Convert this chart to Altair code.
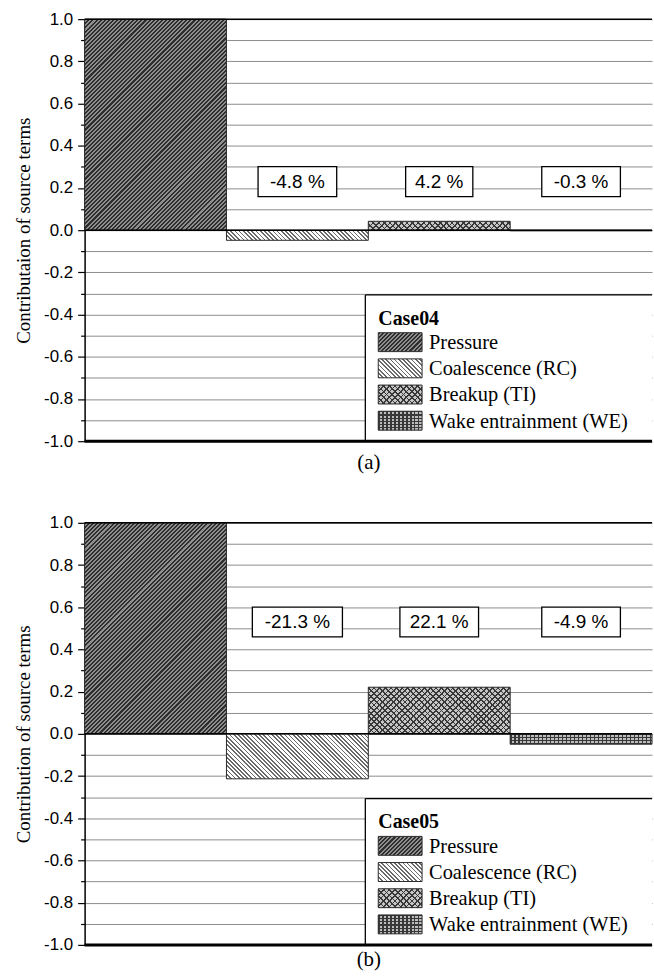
import math

import altair as alt
import pandas as pd

# ---- data -------------------------------------------------------------
terms = ["Pressure", "Coalescence (RC)", "Breakup (TI)", "Wake entrainment (WE)"]
case04_values = [1.0, -0.048, 0.042, -0.003]
case05_values = [1.0, -0.213, 0.221, -0.049]
case_names = ["Case04", "Case05"]
y_titles = ["Contributaion of source terms", "Contribution of source terms"]
captions = ["(a)", "(b)"]
y_ticks = [-1.0, -0.9, -0.8, -0.7, -0.6, -0.5, -0.4, -0.3, -0.2, -0.1, 0.0,
           0.1, 0.2, 0.3, 0.4, 0.5, 0.6, 0.7, 0.8, 0.9, 1.0]
frame_levels = [1.0, 0.0]

# ---- layout / style ---------------------------------------------------
PLOT_W, PLOT_H = 570, 424
BAND_W = PLOT_W / len(terms)
PX_PER_UNIT = PLOT_H / 2.0
LABEL_LEVELS = [0.23, 0.53]          # vertical position of the percentage boxes
CAPTION_PAD = [10, 4]
BOX_HALF = 15 / PX_PER_UNIT          # half box height in data units
SERIF = "Liberation Serif"
SANS = "Liberation Sans"
CLEAR = "rgba(0,0,0,0)"

# hatch definitions: (direction, period px, line fraction, line colour, background)
PATTERNS = {
    "Pressure": [("/", 2.9, 0.5, "#2e2e2e", "#8e8e8e")],
    "Coalescence (RC)": [("\\", 3.0, 0.4, "#6a6a6a", "#ffffff")],
    "Breakup (TI)": [("/", 4.0, 0.3, "#383838", "#c6c6c6"),
                     ("\\", 4.0, 0.3, "#383838", CLEAR)],
    "Wake entrainment (WE)": [("-", 3.2, 0.35, "#383838", "#bdbdbd"),
                              ("|", 4.0, 0.35, "#383838", CLEAR)],
}


def hatch(kind, w, h, period, frac, line, bg):
    """Linear gradient with hard stops that draws stripes of a given pixel period."""
    if kind in ("/", "\\"):
        r = h / w
        a = (1 + r) / (1 + r * r)
        if kind == "/":
            coords = dict(x1=0, y1=0, x2=a, y2=a * r)
        else:
            coords = dict(x1=0, y1=1, x2=a, y2=1 - a * r)
        span = (w + h) / math.sqrt(2)
    elif kind == "|":
        coords = dict(x1=0, y1=0, x2=1, y2=0)
        span = w
    else:
        coords = dict(x1=0, y1=0, x2=0, y2=1)
        span = h
    n = span / period
    stops = []
    k = 0
    while k / n < 1:
        o0 = round(k / n, 5)
        o1 = round(min((k + frac) / n, 1), 5)
        o2 = round(min((k + 1) / n, 1), 5)
        stops += [{"offset": o0, "color": line}, {"offset": o1, "color": line},
                  {"offset": o1, "color": bg}, {"offset": o2, "color": bg}]
        k += 1
    return {"gradient": "linear", **{k2: round(v, 5) for k2, v in coords.items()},
            "stops": stops}


def pattern_marks(chart, term, w, h, **enc):
    """Stack the hatch layers of one term on top of each other."""
    out = []
    specs = PATTERNS[term]
    for i, (kind, period, frac, line, bg) in enumerate(specs):
        props = dict(fill=hatch(kind, w, h, period, frac, line, bg))
        if i == len(specs) - 1:
            props.update(stroke="#2a2a2a", strokeWidth=1)
        out.append(chart.mark_bar(**props).encode(**enc))
    return out


def panel(values, case_name, y_title, caption, label_level, caption_pad):
    df = pd.DataFrame({"term": terms, "value": values})
    labels = pd.DataFrame({
        "term": terms[1:],
        "label": [f"{v * 100:.1f} %" for v in values[1:]],
    })

    y_scale = alt.Scale(domain=[-1, 1], nice=False, zero=False)
    y_axis = alt.Axis(
        values=y_ticks,
        labelExpr="abs(round(datum.value*10)) % 2 == 0 ? "
                  "replace(format(datum.value, '.1f'), '\u2212', '-') : ''",
        tickSize={"condition": {"test": "abs(round(datum.value*10)) % 2 == 0", "value": 7},
                  "value": 4},
        tickColor="black", tickWidth=1.2,
        domainColor="black", domainWidth=1.5,
        gridColor="#8c8c8c", gridWidth=1,
        labelFont=SANS, labelFontSize=17, labelColor="black", labelPadding=5,
        title=y_title, titleFont=SERIF, titleFontSize=19, titleFontWeight="normal",
        titleColor="black", titlePadding=10,
    )
    x_def = alt.X("term:N", sort=terms,
                  scale=alt.Scale(paddingInner=0, paddingOuter=0),
                  axis=alt.Axis(labels=False, ticks=False, domain=False, grid=False,
                                title=caption, titleFont=SERIF, titleFontSize=21,
                                titleFontWeight="normal", titleColor="black",
                                titlePadding=caption_pad))

    def y_def(field):
        return alt.Y(field, type="quantitative", scale=y_scale, axis=y_axis, stack=None)

    layers = []
    # bars, each with its own hatch
    for term, v in zip(terms, values):
        h = abs(v) * PX_PER_UNIT
        src = alt.Chart(df).transform_filter(alt.datum.term == term)
        if h < 3:
            layers.append(src.mark_bar(fill="#2e2e2e", stroke="#1e1e1e", strokeWidth=1)
                          .encode(x=x_def, y=y_def("value")))
        else:
            layers += pattern_marks(src, term, BAND_W, h, x=x_def, y=y_def("value"))

    # zero line and top frame line
    layers.append(alt.Chart(pd.DataFrame({"lvl": frame_levels}))
                  .mark_rule(color="black", strokeWidth=1.5)
                  .encode(y=y_def("lvl")))

    # percentage boxes
    lab = (alt.Chart(labels)
           .transform_calculate(pos=str(label_level),
                                lo=f"{label_level} - {BOX_HALF}",
                                hi=f"{label_level} + {BOX_HALF}",
                                boxw="length(datum.label) * 11.5 + 10"))
    layers.append(lab.mark_bar(fill="white", stroke="black", strokeWidth=1.3)
                  .encode(x=x_def, y=y_def("lo"), y2="hi:Q",
                          size=alt.Size("boxw:Q", scale=None)))
    layers.append(lab.mark_text(font=SANS, fontSize=19, color="black")
                  .encode(x=x_def, y=y_def("pos"), text="label:N"))

    # legend panel
    one = pd.DataFrame({"k": [0]})
    lx0, ly0 = 282, 277
    layers.append(alt.Chart(one).mark_rect(fill="white")
                  .encode(x=alt.value(lx0), x2=alt.value(PLOT_W),
                          y=alt.value(ly0), y2=alt.value(PLOT_H)))
    layers.append(alt.Chart(one).mark_rule(color="black", strokeWidth=1.3)
                  .encode(x=alt.value(lx0), y=alt.value(ly0), y2=alt.value(PLOT_H)))
    layers.append(alt.Chart(one).mark_rule(color="black", strokeWidth=1.3)
                  .encode(x=alt.value(lx0), x2=alt.value(PLOT_W), y=alt.value(ly0)))
    layers.append(alt.Chart(pd.DataFrame({"t": [case_name]}))
                  .mark_text(font=SERIF, fontSize=20, fontWeight="bold", align="left",
                             baseline="middle", color="black")
                  .encode(x=alt.value(295), y=alt.value(301), text="t:N"))
    sw_w, sw_h = 44, 19
    for i, term in enumerate(terms):
        top = 315 + 26.3 * i
        item = alt.Chart(pd.DataFrame({"t": [term]}))
        layers += pattern_marks(item, term, sw_w, sw_h,
                                x=alt.value(295), x2=alt.value(295 + sw_w),
                                y=alt.value(top), y2=alt.value(top + sw_h))
        layers.append(item.mark_text(font=SERIF, fontSize=20.5, align="left",
                                     baseline="middle", color="black")
                      .encode(x=alt.value(346), y=alt.value(top + sw_h / 2 + 1),
                              text="t:N"))

    # bottom frame line
    layers.append(alt.Chart(pd.DataFrame({"lvl": [-1.0]}))
                  .mark_rule(color="black", strokeWidth=3)
                  .encode(y=y_def("lvl")))

    return alt.layer(*layers).properties(width=PLOT_W, height=PLOT_H)


top = panel(case04_values, case_names[0], y_titles[0], captions[0],
            LABEL_LEVELS[0], CAPTION_PAD[0])
bottom = panel(case05_values, case_names[1], y_titles[1], captions[1],
               LABEL_LEVELS[1], CAPTION_PAD[1])

chart = (alt.vconcat(top, bottom, spacing=40)
         .properties(padding={"left": 14, "top": 7, "right": 0, "bottom": 0},
                     background="white")
         .configure_view(stroke="transparent"))

chart.save("out.html", embed_options={"renderer": "svg", "actions": False})
